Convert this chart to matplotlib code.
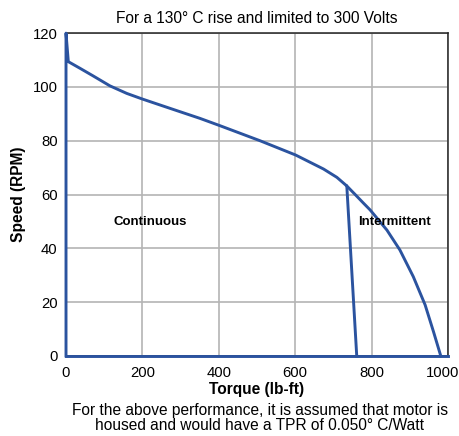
import matplotlib.pyplot as plt
from matplotlib.transforms import ScaledTranslation

plt.rcParams['font.family'] = ['Liberation Sans', 'DejaVu Sans']

# continuous operating envelope (torque lb-ft, speed rpm)
cont_torque = [0, 0, 6, 37, 71, 115, 159, 200, 246, 290, 351, 403, 508, 601, 674, 709, 735, 761]
cont_speed = [0, 120, 109.4, 106.9, 104.1, 100.4, 97.6, 95.5, 93.3, 91.2, 88.3, 85.6, 80, 74.7, 69.5, 66.4, 63.2, 0]

# intermittent envelope beyond the continuous limit
int_torque = [735, 757, 778, 796, 840, 874, 909, 940, 962, 981]
int_speed = [63.2, 60, 56.9, 54.3, 46.8, 39.4, 29.5, 19, 9, 0]

# zero-speed baseline
base_torque = [0, 1000]
base_speed = [0, 0]

blue = '#2b539f'
fs = 11.2

fig = plt.figure(figsize=(4.6, 4.36), dpi=100)
ax = fig.add_axes([0.1435, 0.1835, 0.8305, 0.7405])

ax.plot(cont_torque, cont_speed, color=blue, lw=2.1, clip_on=False, zorder=3)
ax.plot(int_torque, int_speed, color=blue, lw=2.1, clip_on=False, zorder=3)
ax.plot(base_torque, base_speed, color=blue, lw=2.1, clip_on=False, zorder=3)

ax.set_xlim(0, 1000)
ax.set_ylim(0, 120)
ax.set_xticks([0, 200, 400, 600, 800, 1000])
ax.set_yticks([0, 20, 40, 60, 80, 100, 120])
ax.tick_params(length=0, labelsize=fs - 0.5, pad=6)
ax.tick_params(axis='x', pad=7)
ax.grid(True, color='#b4b4b4', lw=1.2)
ax.set_axisbelow(True)
for s in ax.spines.values():
    s.set_color('#222222')
    s.set_linewidth(1.1)

# keep the last torque label inside the canvas
last = ax.get_xticklabels()[-1]
last.set_transform(last.get_transform() + ScaledTranslation(-5 / 100, 0, fig.dpi_scale_trans))

ax.text(220, 49.8, 'Continuous', fontsize=9.5, fontweight='bold', ha='center', va='center')
ax.text(859, 49.8, 'Intermittent', fontsize=9.5, fontweight='bold', ha='center', va='center')

ax.set_title('For a 130\u00b0 C rise and limited to 300 Volts', fontsize=fs, pad=7)
ax.set_xlabel('Torque (lb-ft)', fontsize=fs, fontweight='bold', labelpad=2)
ax.set_ylabel('Speed (RPM)', fontsize=fs, fontweight='bold', labelpad=5)

fig.text(0.565, 0.008, 'For the above performance, it is assumed that motor is\n'
         'housed and would have a TPR of 0.050\u00b0 C/Watt',
         ha='center', va='bottom', fontsize=fs, linespacing=0.95)

fig.savefig('out.png', dpi=100)
